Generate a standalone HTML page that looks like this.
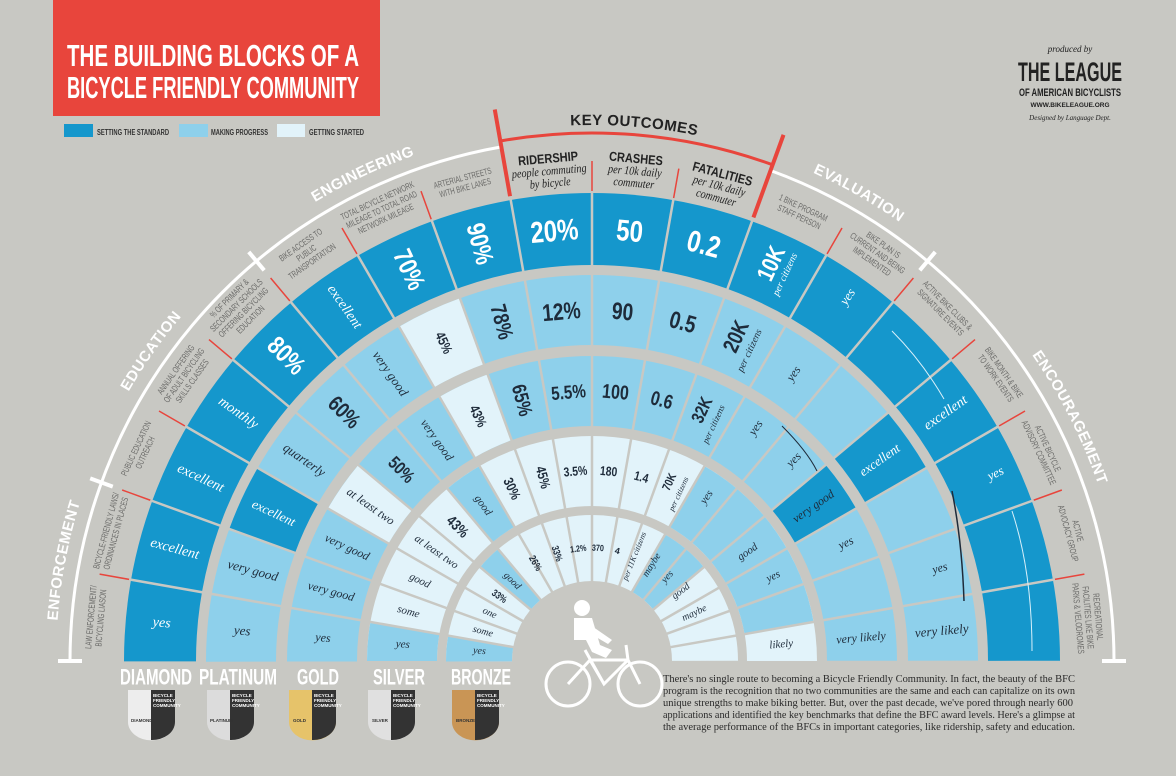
<!DOCTYPE html>
<html><head><meta charset="utf-8">
<style>
html,body{margin:0;padding:0;background:#c8c8c3;width:1176px;height:776px;overflow:hidden;}
svg{display:block;}
.n{font-family:"Liberation Sans Narrow","Liberation Sans",sans-serif;font-weight:bold;}
.w{font-family:"Liberation Serif",serif;font-style:italic;}
.c{text-anchor:middle;dominant-baseline:central;}
.lab{font-family:"Liberation Sans Narrow","Liberation Sans",sans-serif;font-size:9px;fill:#6a6a68;text-anchor:middle;}
.para{font-family:"Liberation Serif",serif;font-size:10.5px;fill:#2a2a2a;}
</style></head>
<body>
<svg width="1176" height="776" viewBox="0 0 1176 776" xmlns="http://www.w3.org/2000/svg">
<rect width="1176" height="776" fill="#c8c8c3"/>
<!-- Title -->
<rect x="53" y="0" width="327" height="116" fill="#e8453c"/>
<text x="67" y="66" class="n" font-size="31" fill="#fff" font-weight="normal" textLength="292" lengthAdjust="spacingAndGlyphs">THE BUILDING BLOCKS OF A</text>
<text x="67" y="98" class="n" font-size="31" fill="#fff" font-weight="normal" textLength="292" lengthAdjust="spacingAndGlyphs">BICYCLE FRIENDLY COMMUNITY</text>
<rect x="64" y="124" width="29" height="13" fill="#1597cc"/>
<rect x="179" y="124" width="29" height="13" fill="#8ed0eb"/>
<rect x="277" y="124" width="28" height="13" fill="#e2f3fa"/>
<g class="n" font-size="8" fill="#333" font-weight="normal">
<text x="97" y="135" textLength="72" lengthAdjust="spacingAndGlyphs">SETTING THE STANDARD</text>
<text x="211" y="135" textLength="57" lengthAdjust="spacingAndGlyphs">MAKING PROGRESS</text>
<text x="309" y="135" textLength="55" lengthAdjust="spacingAndGlyphs">GETTING STARTED</text>
</g>
<!-- League -->
<g text-anchor="middle" fill="#222">
<text x="1070" y="52" class="w" font-size="9">produced by</text>
<text x="1070" y="81" class="n" font-size="27" textLength="104" lengthAdjust="spacingAndGlyphs">THE LEAGUE</text>
<text x="1070" y="96" class="n" font-size="11" textLength="102" lengthAdjust="spacingAndGlyphs">OF AMERICAN BICYCLISTS</text>
<text x="1070" y="107" class="n" font-size="6.5">WWW.BIKELEAGUE.ORG</text>
<text x="1070" y="120" class="w" font-size="7">Designed by Language Dept.</text>
</g>

<g transform="translate(592 661)">
<!-- outer arcs -->
<path d="M -522 0 A 522 522 0 0 1 -90.6 -514.1" fill="none" stroke="#fff" stroke-width="3"/>
<path d="M 178.5 -490.5 A 522 522 0 0 1 522 0" fill="none" stroke="#fff" stroke-width="3"/>
<g stroke="#fff" stroke-width="4">
<line x1="510" x2="534" transform="rotate(-160)"/>
<line x1="510" x2="534" transform="rotate(-130)"/>
<line x1="510" x2="534" transform="rotate(-50)"/>
<line x1="-534" x2="-510" y1="0" y2="0"/>
<line x1="510" x2="534" y1="0" y2="0"/>
</g>
<path d="M -91.7 -520 A 528 528 0 0 1 180.6 -496.2" fill="none" stroke="#e8453c" stroke-width="3"/>
<g stroke="#e8453c" stroke-width="4">
<line x1="472" x2="560" transform="rotate(-100)"/>
<line x1="472" x2="560" transform="rotate(-70)"/>
</g>
<g stroke="#e8453c" stroke-width="1.5">
<line x1="470" x2="500" transform="rotate(-170)"/>
<line x1="470" x2="500" transform="rotate(-160)"/>
<line x1="470" x2="500" transform="rotate(-150)"/>
<line x1="470" x2="500" transform="rotate(-140)"/>
<line x1="470" x2="500" transform="rotate(-130)"/>
<line x1="470" x2="500" transform="rotate(-120)"/>
<line x1="470" x2="500" transform="rotate(-110)"/>
<line x1="470" x2="500" transform="rotate(-90)"/>
<line x1="470" x2="500" transform="rotate(-80)"/>
<line x1="470" x2="500" transform="rotate(-60)"/>
<line x1="470" x2="500" transform="rotate(-50)"/>
<line x1="470" x2="500" transform="rotate(-40)"/>
<line x1="470" x2="500" transform="rotate(-30)"/>
<line x1="470" x2="500" transform="rotate(-20)"/>
<line x1="470" x2="500" transform="rotate(-10)"/>
</g>
<path id="gp" d="M -536 0 A 536 536 0 0 1 536 0" fill="none"/>
<g class="n" font-size="15" fill="#fff" font-weight="normal" letter-spacing="0.5">
<text text-anchor="middle"><textPath href="#gp" startOffset="6%">ENFORCEMENT</textPath></text>
<text text-anchor="middle"><textPath href="#gp" startOffset="19.5%">EDUCATION</textPath></text>
<text text-anchor="middle"><textPath href="#gp" startOffset="36%">ENGINEERING</textPath></text>
<text text-anchor="middle" fill="#222"><textPath href="#gp" startOffset="52.5%">KEY OUTCOMES</textPath></text>
<text text-anchor="middle"><textPath href="#gp" startOffset="66.5%">EVALUATION</textPath></text>
<text text-anchor="middle"><textPath href="#gp" startOffset="85%">ENCOURAGEMENT</textPath></text>
</g>

<!-- rings -->
<g fill="none">
<circle r="432" stroke="#1597cc" stroke-width="72" pathLength="360" stroke-dasharray="180 180" transform="rotate(-180)"/>
<circle r="351" stroke="#8ed0eb" stroke-width="70" pathLength="360" stroke-dasharray="180 180" transform="rotate(-180)"/>
<circle r="351" stroke="#1597cc" stroke-width="70" pathLength="360" stroke-dasharray="10 350" transform="rotate(-160)"/>
<circle r="351" stroke="#1597cc" stroke-width="70" pathLength="360" stroke-dasharray="10 350" transform="rotate(-40)"/>
<circle r="351" stroke="#e2f3fa" stroke-width="70" pathLength="360" stroke-dasharray="10 350" transform="rotate(-120)"/>
<circle r="270" stroke="#8ed0eb" stroke-width="70" pathLength="360" stroke-dasharray="180 180" transform="rotate(-180)"/>
<circle r="270" stroke="#e2f3fa" stroke-width="70" pathLength="360" stroke-dasharray="10 350" transform="rotate(-150)"/>
<circle r="270" stroke="#e2f3fa" stroke-width="70" pathLength="360" stroke-dasharray="10 350" transform="rotate(-120)"/>
<circle r="270" stroke="#1597cc" stroke-width="70" pathLength="360" stroke-dasharray="10 350" transform="rotate(-40)"/>
<circle r="190" stroke="#e2f3fa" stroke-width="70" pathLength="360" stroke-dasharray="180 180" transform="rotate(-180)"/>
<circle r="190" stroke="#8ed0eb" stroke-width="70" pathLength="360" stroke-dasharray="10 350" transform="rotate(-180)"/>
<circle r="190" stroke="#8ed0eb" stroke-width="70" pathLength="360" stroke-dasharray="10 350" transform="rotate(-130)"/>
<circle r="190" stroke="#8ed0eb" stroke-width="70" pathLength="360" stroke-dasharray="50 310" transform="rotate(-60)"/>
<circle r="113" stroke="#e2f3fa" stroke-width="66" pathLength="360" stroke-dasharray="180 180" transform="rotate(-180)"/>
<circle r="113" stroke="#8ed0eb" stroke-width="66" pathLength="360" stroke-dasharray="10 350" transform="rotate(-180)"/>
<circle r="113" stroke="#8ed0eb" stroke-width="66" pathLength="360" stroke-dasharray="10 350" transform="rotate(-140)"/>
<circle r="113" stroke="#8ed0eb" stroke-width="66" pathLength="360" stroke-dasharray="20 340" transform="rotate(-60)"/>
</g>
<!-- separators -->
<g stroke="#c8c8c3" stroke-width="2.5">
<line x1="78" x2="470" transform="rotate(-170)"/><line x1="78" x2="470" transform="rotate(-160)"/>
<line x1="78" x2="470" transform="rotate(-150)"/><line x1="78" x2="470" transform="rotate(-140)"/>
<line x1="78" x2="470" transform="rotate(-130)"/><line x1="78" x2="470" transform="rotate(-120)"/>
<line x1="78" x2="470" transform="rotate(-110)"/><line x1="78" x2="470" transform="rotate(-100)"/>
<line x1="78" x2="470" transform="rotate(-90)"/><line x1="78" x2="470" transform="rotate(-80)"/>
<line x1="78" x2="470" transform="rotate(-70)"/><line x1="78" x2="470" transform="rotate(-60)"/>
<line x1="78" x2="470" transform="rotate(-50)"/><line x1="78" x2="470" transform="rotate(-40)"/>
<line x1="78" x2="470" transform="rotate(-30)"/><line x1="78" x2="470" transform="rotate(-20)"/>
<line x1="78" x2="470" transform="rotate(-10)"/>
</g>

<!-- column labels -->
<g class="lab">
<text transform="rotate(-175) translate(500 0) rotate(90) scale(0.68 1)"><tspan x="0">LAW ENFORCEMENT/</tspan><tspan x="0" dy="10">BICYCLING LIASON</tspan></text>
<text transform="rotate(-165) translate(500 0) rotate(90) scale(0.68 1)"><tspan x="0">BICYCLE-FRIENDLY LAWS/</tspan><tspan x="0" dy="10">ORDINANCES IN PLACES</tspan></text>
<text transform="rotate(-155) translate(500 0) rotate(90) scale(0.68 1)"><tspan x="0">PUBLIC EDUCATION</tspan><tspan x="0" dy="10">OUTREACH</tspan></text>
<text transform="rotate(-145) translate(505 0) rotate(90) scale(0.68 1)"><tspan x="0">ANNUAL OFFERING</tspan><tspan x="0" dy="10">OF ADULT BICYCLING</tspan><tspan x="0" dy="10">SKILLS CLASSES</tspan></text>
<text transform="rotate(-135) translate(510 0) rotate(90) scale(0.68 1)"><tspan x="0">% OF PRIMARY &amp;</tspan><tspan x="0" dy="10">SECONDARY SCHOOLS</tspan><tspan x="0" dy="10">OFFERING BICYCLING</tspan><tspan x="0" dy="10">EDUCATION</tspan></text>
<text transform="rotate(-125) translate(505 0) rotate(90) scale(0.68 1)"><tspan x="0">BIKE ACCESS TO</tspan><tspan x="0" dy="10">PUBLIC</tspan><tspan x="0" dy="10">TRANSPORTATION</tspan></text>
<text transform="rotate(-115) translate(505 0) rotate(90) scale(0.68 1)"><tspan x="0">TOTAL BICYCLE NETWORK</tspan><tspan x="0" dy="10">MILEAGE TO TOTAL ROAD</tspan><tspan x="0" dy="10">NETWORK MILEAGE</tspan></text>
<text transform="rotate(-105) translate(497 0) rotate(90) scale(0.68 1)"><tspan x="0">ARTERIAL STREETS</tspan><tspan x="0" dy="10">WITH BIKE LANES</tspan></text>
<text transform="rotate(-65) translate(497 0) rotate(90) scale(0.68 1)"><tspan x="0">1 BIKE PROGRAM</tspan><tspan x="0" dy="10">STAFF PERSON</tspan></text>
<text transform="rotate(-55) translate(505 0) rotate(90) scale(0.68 1)"><tspan x="0">BIKE PLAN IS</tspan><tspan x="0" dy="10">CURRENT AND BEING</tspan><tspan x="0" dy="10">IMPLEMENTED</tspan></text>
<text transform="rotate(-45) translate(500 0) rotate(90) scale(0.68 1)"><tspan x="0">ACTIVE BIKE CLUBS &amp;</tspan><tspan x="0" dy="10">SIGNATURE EVENTS</tspan></text>
<text transform="rotate(-35) translate(500 0) rotate(90) scale(0.68 1)"><tspan x="0">BIKE MONTH &amp; BIKE</tspan><tspan x="0" dy="10">TO WORK EVENTS</tspan></text>
<text transform="rotate(-25) translate(500 0) rotate(90) scale(0.68 1)"><tspan x="0">ACTIVE BICYCLE</tspan><tspan x="0" dy="10">ADVISORY COMMITTEE</tspan></text>
<text transform="rotate(-15) translate(500 0) rotate(90) scale(0.68 1)"><tspan x="0">ACTIVE</tspan><tspan x="0" dy="10">ADVOCACY GROUP</tspan></text>
<text transform="rotate(-5) translate(505 0) rotate(90) scale(0.68 1)"><tspan x="0">RECREATIONAL</tspan><tspan x="0" dy="10">FACILITIES LIKE BIKE</tspan><tspan x="0" dy="10">PARKS &amp; VELODROMES</tspan></text>
</g>
<g fill="#222" text-anchor="middle">
<text transform="rotate(-95) translate(500 0) rotate(90) scale(0.85 1)"><tspan x="0" class="n" font-size="13" font-weight="normal">RIDERSHIP</tspan><tspan x="0" dy="12" class="w" font-size="12">people commuting</tspan><tspan x="0" dy="12" class="w" font-size="12">by bicycle</tspan></text>
<text transform="rotate(-85) translate(500 0) rotate(90) scale(0.85 1)"><tspan x="0" class="n" font-size="13" font-weight="normal">CRASHES</tspan><tspan x="0" dy="12" class="w" font-size="12">per 10k daily</tspan><tspan x="0" dy="12" class="w" font-size="12">commuter</tspan></text>
<text transform="rotate(-75) translate(500 0) rotate(90) scale(0.85 1)"><tspan x="0" class="n" font-size="13" font-weight="normal">FATALITIES</tspan><tspan x="0" dy="12" class="w" font-size="12">per 10k daily</tspan><tspan x="0" dy="12" class="w" font-size="12">commuter</tspan></text>
</g>

<!-- Diamond ring -->
<g fill="#fff">
<text class="w c" font-size="14" transform="rotate(-175) translate(432 0) rotate(180)">yes</text>
<text class="w c" font-size="14" transform="rotate(-165) translate(432 0) rotate(180)">excellent</text>
<text class="w c" font-size="14" transform="rotate(-155) translate(432 0) rotate(180)">excellent</text>
<text class="w c" font-size="14" transform="rotate(-145) translate(432 0) rotate(180)">monthly</text>
<text class="n c" font-size="26" transform="rotate(-135) translate(432 0) rotate(180) scale(0.8 1)">80%</text>
<text class="w c" font-size="14" transform="rotate(-125) translate(432 0) rotate(180)">excellent</text>
<text class="n c" font-size="26" transform="rotate(-115) translate(432 0) rotate(180) scale(0.8 1)">70%</text>
<text class="n c" font-size="26" transform="rotate(-105) translate(432 0) rotate(180) scale(0.8 1)">90%</text>
<text class="n c" font-size="30" transform="rotate(-95) translate(432 0) rotate(90) scale(0.8 1)">20%</text>
<text class="n c" font-size="30" transform="rotate(-85) translate(432 0) rotate(90) scale(0.8 1)">50</text>
<text class="n c" font-size="30" transform="rotate(-75) translate(432 0) rotate(90) scale(0.8 1)">0.2</text>
<text class="n c" font-size="24" transform="rotate(-65) translate(436 -6) scale(0.8 1)">10K</text>
<text class="w c" font-size="10" transform="rotate(-65) translate(432 12)">per citizens</text>
<text class="w c" font-size="13" transform="rotate(-55) translate(445 0)">yes</text>
<text class="w c" font-size="14" transform="rotate(-35) translate(432 0)">excellent</text>
<text class="w c" font-size="13" transform="rotate(-25) translate(445 0)">yes</text>
</g>
<!-- Platinum -->
<g fill="#1e2b3a">
<text class="w c" font-size="13" transform="rotate(-175) translate(351 0) rotate(180)">yes</text>
<text class="w c" font-size="13" transform="rotate(-165) translate(351 0) rotate(180)">very good</text>
<text class="w c" font-size="13" fill="#fff" transform="rotate(-155) translate(351 0) rotate(180)">excellent</text>
<text class="w c" font-size="13" transform="rotate(-145) translate(351 0) rotate(180)">quarterly</text>
<text class="n c" font-size="22" transform="rotate(-135) translate(351 0) rotate(180) scale(0.8 1)">60%</text>
<text class="w c" font-size="13" transform="rotate(-125) translate(351 0) rotate(180)">very good</text>
<text class="n c" font-size="14" transform="rotate(-115) translate(351 0) rotate(180) scale(0.8 1)">45%</text>
<text class="n c" font-size="22" transform="rotate(-105) translate(351 0) rotate(180) scale(0.8 1)">78%</text>
<text class="n c" font-size="24" transform="rotate(-95) translate(351 0) rotate(90) scale(0.8 1)">12%</text>
<text class="n c" font-size="24" transform="rotate(-85) translate(351 0) rotate(90) scale(0.8 1)">90</text>
<text class="n c" font-size="24" transform="rotate(-75) translate(351 0) rotate(90) scale(0.8 1)">0.5</text>
<text class="n c" font-size="22" transform="rotate(-65) translate(355 -6) scale(0.8 1)">20K</text>
<text class="w c" font-size="10" transform="rotate(-65) translate(348 12)">per citizens</text>
<text class="w c" font-size="12" transform="rotate(-55) translate(351 0)">yes</text>
<text class="w c" font-size="13" fill="#fff" transform="rotate(-35) translate(351 0)">excellent</text>
<text class="w c" font-size="12" transform="rotate(-15) translate(360 0)">yes</text>
<text class="w c" font-size="13" transform="rotate(-5) translate(351 0)">very likely</text>
</g>
<!-- Gold -->
<g fill="#1e2b3a">
<text class="w c" font-size="12" transform="rotate(-175) translate(270 0) rotate(180)">yes</text>
<text class="w c" font-size="12" transform="rotate(-165) translate(270 0) rotate(180)">very good</text>
<text class="w c" font-size="12" transform="rotate(-155) translate(270 0) rotate(180)">very good</text>
<text class="w c" font-size="12" transform="rotate(-145) translate(270 0) rotate(180)">at least two</text>
<text class="n c" font-size="18" transform="rotate(-135) translate(270 0) rotate(180) scale(0.8 1)">50%</text>
<text class="w c" font-size="12" transform="rotate(-125) translate(270 0) rotate(180)">very good</text>
<text class="n c" font-size="14" transform="rotate(-115) translate(270 0) rotate(180) scale(0.8 1)">43%</text>
<text class="n c" font-size="20" transform="rotate(-105) translate(270 0) rotate(180) scale(0.8 1)">65%</text>
<text class="n c" font-size="19" transform="rotate(-95) translate(270 0) rotate(90) scale(0.8 1)">5.5%</text>
<text class="n c" font-size="20" transform="rotate(-85) translate(270 0) rotate(90) scale(0.8 1)">100</text>
<text class="n c" font-size="20" transform="rotate(-75) translate(270 0) rotate(90) scale(0.8 1)">0.6</text>
<text class="n c" font-size="18" transform="rotate(-65) translate(274 -6) scale(0.8 1)">32K</text>
<text class="w c" font-size="9" transform="rotate(-65) translate(266 10)">per citizens</text>
<text class="w c" font-size="12" transform="rotate(-55) translate(285 0)">yes</text>
<text class="w c" font-size="12" transform="rotate(-45) translate(285 0)">yes</text>
<text class="w c" font-size="12" transform="rotate(-35) translate(270 0)">very good</text>
<text class="w c" font-size="12" transform="rotate(-25) translate(280 0)">yes</text>
<text class="w c" font-size="12" transform="rotate(-5) translate(270 0)">very likely</text>
</g>
<!-- Silver -->
<g fill="#1e2b3a">
<text class="w c" font-size="11" transform="rotate(-175) translate(190 0) rotate(180)">yes</text>
<text class="w c" font-size="11" transform="rotate(-165) translate(190 0) rotate(180)">some</text>
<text class="w c" font-size="11" transform="rotate(-155) translate(190 0) rotate(180)">good</text>
<text class="w c" font-size="11" transform="rotate(-145) translate(190 0) rotate(180)">at least two</text>
<text class="n c" font-size="15" transform="rotate(-135) translate(190 0) rotate(180) scale(0.8 1)">43%</text>
<text class="w c" font-size="11" transform="rotate(-125) translate(190 0) rotate(180)">good</text>
<text class="n c" font-size="14" transform="rotate(-115) translate(190 0) rotate(180) scale(0.8 1)">30%</text>
<text class="n c" font-size="14" transform="rotate(-105) translate(190 0) rotate(180) scale(0.8 1)">45%</text>
<text class="n c" font-size="13" transform="rotate(-95) translate(190 0) rotate(90) scale(0.8 1)">3.5%</text>
<text class="n c" font-size="13" transform="rotate(-85) translate(190 0) rotate(90) scale(0.8 1)">180</text>
<text class="n c" font-size="13" transform="rotate(-75) translate(190 0) rotate(90) scale(0.8 1)">1.4</text>
<text class="n c" font-size="12" transform="rotate(-65) translate(195 -5) scale(0.8 1)">70K</text>
<text class="w c" font-size="8" transform="rotate(-65) translate(188 8)">per citizens</text>
<text class="w c" font-size="11" transform="rotate(-55) translate(200 0)">yes</text>
<text class="w c" font-size="11" transform="rotate(-35) translate(190 0)">good</text>
<text class="w c" font-size="11" transform="rotate(-25) translate(200 0)">yes</text>
<text class="w c" font-size="11" transform="rotate(-5) translate(190 0)">likely</text>
</g>
<!-- Bronze -->
<g fill="#1e2b3a">
<text class="w c" font-size="10" transform="rotate(-175) translate(113 0) rotate(180)">yes</text>
<text class="w c" font-size="10" transform="rotate(-165) translate(113 0) rotate(180)">some</text>
<text class="w c" font-size="10" transform="rotate(-155) translate(113 0) rotate(180)">one</text>
<text class="n c" font-size="10" transform="rotate(-145) translate(113 0) rotate(180) scale(0.8 1)">33%</text>
<text class="w c" font-size="10" transform="rotate(-135) translate(113 0) rotate(180)">good</text>
<text class="n c" font-size="10" transform="rotate(-120) translate(113 0) rotate(180) scale(0.8 1)">26%</text>
<text class="n c" font-size="10" transform="rotate(-108) translate(113 0) rotate(180) scale(0.8 1)">33%</text>
<text class="n c" font-size="9" transform="rotate(-97) translate(113 0) rotate(90) scale(0.8 1)">1.2%</text>
<text class="n c" font-size="9" transform="rotate(-87) translate(113 0) rotate(90) scale(0.8 1)">370</text>
<text class="n c" font-size="9" transform="rotate(-77) translate(113 0) rotate(90)">4</text>
<text class="w c" font-size="8" transform="rotate(-68) translate(113 0)">per 11K citizens</text>
<text class="w c" font-size="10" transform="rotate(-58) translate(113 0)">maybe</text>
<text class="w c" font-size="10" transform="rotate(-48) translate(113 0)">yes</text>
<text class="w c" font-size="10" transform="rotate(-38) translate(113 0)">good</text>
<text class="w c" font-size="10" transform="rotate(-25) translate(113 0)">maybe</text>
</g>
<!-- a few arrows -->
<g fill="none" stroke-width="1">
<path d="M 300 -330 Q 330 -300 352 -262" stroke="#d9f0fa"/>
<path d="M 360 -170 Q 370 -120 372 -60" stroke="#1e2b3a" stroke-width="1.5"/>
<path d="M 420 -150 Q 440 -90 440 -10" stroke="#d9f0fa"/>
<path d="M 190 -235 Q 215 -210 225 -190" stroke="#1e2b3a"/>
</g>
</g>

<!-- Bicycle -->
<g stroke="#fff" fill="none" stroke-width="3">
<circle cx="568" cy="684" r="22"/>
<circle cx="640" cy="684" r="22"/>
<path d="M568 684 L590 660 L628 660 L640 684 M590 660 L604 684 L628 660 M604 684 L585 650 M628 660 L626 645"/>
</g>
<g fill="#fff">
<circle cx="582" cy="608" r="8"/>
<path d="M574 618 L592 618 L600 645 L612 650 L606 658 L592 652 L586 640 L574 640 Z"/>
<path d="M586 622 L612 640 L608 644 L584 630 Z"/>
</g>

<!-- medal labels -->
<g class="n c" font-size="22" fill="#fff">
<text x="156" y="677" textLength="72" lengthAdjust="spacingAndGlyphs">DIAMOND</text>
<text x="238" y="677" textLength="78" lengthAdjust="spacingAndGlyphs">PLATINUM</text>
<text x="318" y="677" textLength="42" lengthAdjust="spacingAndGlyphs">GOLD</text>
<text x="399" y="677" textLength="52" lengthAdjust="spacingAndGlyphs">SILVER</text>
<text x="481" y="677" textLength="60" lengthAdjust="spacingAndGlyphs">BRONZE</text>
</g>
<g>
<path d="M128 690 h47 v32 a23 18 0 0 1 -47 0 Z" fill="#ededed"/><path d="M151 690 h24 v32 a23 18 0 0 1 -24 18 Z" fill="#333"/>
<path d="M207 690 h47 v32 a23 18 0 0 1 -47 0 Z" fill="#dcdcdc"/><path d="M230 690 h24 v32 a23 18 0 0 1 -24 18 Z" fill="#333"/>
<path d="M289 690 h47 v32 a23 18 0 0 1 -47 0 Z" fill="#e6c36a"/><path d="M312 690 h24 v32 a23 18 0 0 1 -24 18 Z" fill="#333"/>
<path d="M368 690 h47 v32 a23 18 0 0 1 -47 0 Z" fill="#e0e0e0"/><path d="M391 690 h24 v32 a23 18 0 0 1 -24 18 Z" fill="#333"/>
<path d="M452 690 h47 v32 a23 18 0 0 1 -47 0 Z" fill="#c99555"/><path d="M475 690 h24 v32 a23 18 0 0 1 -24 18 Z" fill="#333"/>
<g class="n" font-size="4.5" fill="#fff" font-weight="normal">
<text x="153" y="697">BICYCLE</text><text x="153" y="702">FRIENDLY</text><text x="153" y="707">COMMUNITY</text>
<text x="232" y="697">BICYCLE</text><text x="232" y="702">FRIENDLY</text><text x="232" y="707">COMMUNITY</text>
<text x="314" y="697">BICYCLE</text><text x="314" y="702">FRIENDLY</text><text x="314" y="707">COMMUNITY</text>
<text x="393" y="697">BICYCLE</text><text x="393" y="702">FRIENDLY</text><text x="393" y="707">COMMUNITY</text>
<text x="477" y="697">BICYCLE</text><text x="477" y="702">FRIENDLY</text><text x="477" y="707">COMMUNITY</text>
</g>
<g class="n" font-size="4.5" fill="#333" font-weight="normal">
<text x="131" y="722">DIAMOND</text><text x="210" y="722">PLATINUM</text><text x="293" y="722">GOLD</text><text x="372" y="722">SILVER</text><text x="456" y="722">BRONZE</text>
</g>
</g>

<!-- paragraph -->
<g class="para">
<text x="663" y="682" textLength="412" lengthAdjust="spacingAndGlyphs">There's no single route to becoming a Bicycle Friendly Community. In fact, the beauty of the BFC</text>
<text x="663" y="694" textLength="412" lengthAdjust="spacingAndGlyphs">program is the recognition that no two communities are the same and each can capitalize on its own</text>
<text x="663" y="706" textLength="410" lengthAdjust="spacingAndGlyphs">unique strengths to make biking better. But, over the past decade, we've pored through nearly 600</text>
<text x="663" y="718" textLength="412" lengthAdjust="spacingAndGlyphs">applications and identified the key benchmarks that define the BFC award levels. Here's a glimpse at</text>
<text x="663" y="730" textLength="412" lengthAdjust="spacingAndGlyphs">the average performance of the BFCs in important categories, like ridership, safety and education.</text>
</g>
</svg>
</body></html>
